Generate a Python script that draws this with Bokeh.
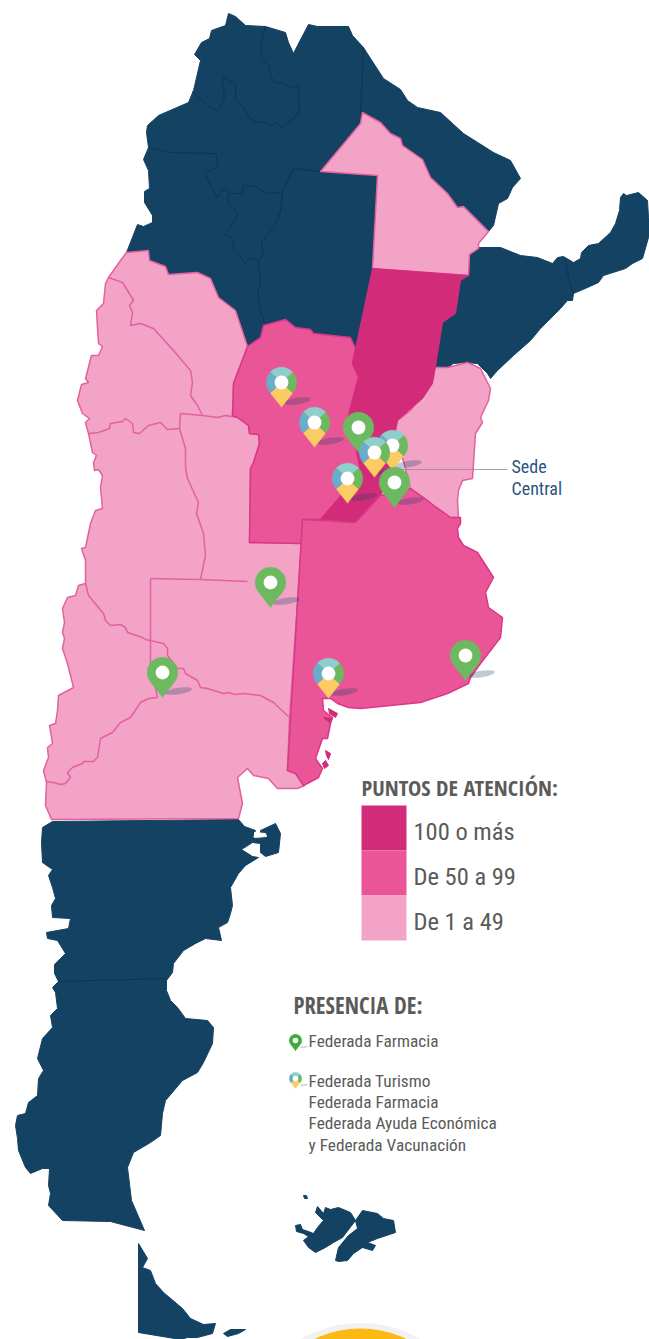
import math
from bokeh.plotting import figure
from bokeh.models import Range1d
from bokeh.core.properties import value
from bokeh.embed import file_html
from bokeh.resources import INLINE

NAVY = "#144263"; LIGHT = "#F2A3C6"; MID = "#EA5598"; DARK = "#D22B79"
LIGHT_EDGE = "#E261A0"; MID_EDGE = "#D9378A"; NAVY_EDGE = "#0E3450"
TXT = "#5B5B59"; SEDE = "#2A5580"
FONT = "Roboto Condensed"; HEAD = "Open Sans Condensed"

north = [(126,252),(137,224),(143,226),(152,222),(152,215),(144,202),(144,191),(149,188),(148,170),(143,159),(148,147),(146,132),(147,125),(158,115),(188,102),(193,90),(200,60),(194,54),(201,42),(209,38),(211,30),(225,25),(228,13),(235,16),(245,25),(265,26),(285,32),(288,42),(293,53),(297,45),(308,24),(317,26),(348,26),(352,35),(363,47),(370,58),(383,78),(400,89),(407,100),(417,107),(440,112),(463,133),(493,152),(510,160),(520,178),(512,187),(507,198),(498,203),(493,225),(488,231),(400,250),(372,268),(357,350),(247,350),(235,310),(126,260)]
north_lines = [
 [(265,26),(260,45),(262,60),(268,65),(270,75),(275,83),(283,82),(290,88),(298,84),(299,110),(293,118),(282,127),(275,122),(270,126),(263,121),(257,122),(248,117),(243,107),(235,100),(235,83),(223,77),(222,82),(224,97),(218,110),(212,109),(192,91)],
 [(363,47),(360,113)],
 [(148,147),(170,152),(215,153),(217,163),(215,168),(205,171),(207,178),(217,197),(223,188),(230,193),(242,193),(243,185),(255,186),(267,193),(282,192),(293,168),(320,171)],
 [(228,193),(227,202),(237,211),(235,220),(224,234),(232,238),(233,248),(240,255),(244,263),(252,257),(258,260),(263,253),(261,242),(273,227),(280,211),(282,192)],
 [(258,260),(260,285),(257,290),(260,310),(264,323)],
]
santiago = [(293,168),(320,171),(377,175),(372,268),(357,345),(300,345),(262,330),(258,260),(263,253),(261,242),(273,227),(280,211),(282,192)]
corrientes = [(478,247),(500,247),(520,255),(537,257),(552,263),(557,257),(563,256),(573,262),(580,258),(581,252),(588,245),(598,243),(610,232),(615,223),(619,210),(620,197),(623,193),(626,195),(638,192),(647,200),(648,217),(648,237),(642,258),(632,263),(625,268),(603,275),(598,282),(587,287),(573,293),(572,300),(567,300),(560,308),(540,328),(530,340),(513,355),(497,370),(490,378),(487,373),(477,363),(465,362),(453,363),(447,367),(435,366),(442,322),(455,313),(460,280),(468,275),(469,254)]
misiones_line = [(565,258),(568,278),(573,293)]
chaco = [(320,171),(360,123),(362,112),(380,122),(390,133),(400,138),(402,145),(422,159),(430,177),(447,193),(457,207),(463,206),(488,231),(478,243),(478,248),(469,254),(468,275),(372,268),(377,175)]
west = [(126,252),(148,250),(149,260),(165,266),(168,274),(197,272),(210,278),(218,297),(235,310),(247,346),(233,383),(232,415),(237,417),(248,425),(249,433),(258,434),(259,443),(253,462),(250,468),(249,542),(301,543),(289,717),(287,770),(297,772),(304,785),(297,788),(277,788),(268,778),(253,775),(247,768),(237,777),(242,803),(238,818),(51,819),(45,805),(46,782),(43,770),(48,757),(47,747),(52,743),(49,725),(55,723),(57,710),(58,695),(73,687),(67,663),(62,648),(64,638),(62,632),(64,622),(62,608),(67,597),(75,595),(78,585),(85,583),(85,573),(85,560),(81,548),(85,547),(90,523),(95,510),(102,508),(100,487),(102,475),(98,469),(94,470),(93,462),(96,455),(92,452),(88,433),(85,422),(89,418),(82,413),(77,400),(81,384),(88,382),(85,378),(91,355),(98,355),(102,346),(98,343),(97,327),(96,310),(103,303),(105,283),(108,277),(120,260)]
west_lines = [
 [(108,277),(122,282),(127,290),(133,300),(129,305),(132,312),(130,325),(140,323),(153,328),(173,350),(190,370),(192,382),(190,395),(197,405),(202,415)],
 [(88,433),(98,432),(109,428),(110,423),(122,421),(125,418),(132,423),(133,432),(139,433),(148,425),(160,422),(167,429),(179,428)],
 [(180,413),(202,415),(217,417),(225,415),(237,417)],
 [(180,413),(179,428),(185,448),(185,467),(187,478),(198,502),(196,513),(203,533),(205,555),(200,579)],
 [(150,578),(200,579),(247,581)],
 [(85,583),(88,595),(103,613),(105,620),(110,625),(120,624),(125,627),(127,632),(142,637),(145,639),(163,643),(167,648),(167,655),(177,668),(183,668),(185,673),(197,680),(200,687),(207,688),(223,693),(228,692),(235,694),(243,693),(260,695),(273,702),(289,717)],
 [(150,578),(150,640),(150,663),(157,697)],
 [(157,697),(148,698),(140,702),(130,717),(120,722),(112,732),(100,738),(97,757),(93,761),(83,761),(82,763),(72,767),(67,772),(70,777),(65,783),(60,784),(53,782),(46,781)],
]
entre_rios = [(433,367),(447,367),(467,362),(480,368),(490,388),(488,400),(480,417),(482,422),(475,433),(472,478),(462,480),(458,490),(457,500),(458,517),(450,517),(433,505),(427,500),(410,488),(395,430),(397,420),(410,410),(433,377)]
cordoba = [(247,346),(260,337),(263,325),(285,319),(295,327),(310,329),(313,333),(350,337),(355,348),(352,363),(358,377),(350,407),(346,425),(356,450),(360,470),(345,490),(320,519),(302,519),(301,543),(249,542),(250,468),(253,462),(259,443),(258,434),(249,433),(248,425),(237,417),(232,415),(233,383)]
santa_fe = [(372,268),(468,275),(460,280),(455,313),(442,322),(435,366),(432,383),(422,398),(397,420),(395,430),(398,450),(392,478),(380,495),(355,522),(320,519),(345,490),(360,470),(356,450),(346,425),(350,407),(358,377),(352,363),(355,348)]
buenos_aires = [(302,519),(355,522),(380,495),(410,488),(427,500),(433,505),(450,517),(460,517),(460,523),(457,528),(458,537),(463,545),(477,552),(493,577),(485,592),(488,607),(502,617),(500,637),(480,663),(470,677),(468,683),(447,693),(420,702),(360,708),(348,707),(337,703),(330,698),(322,698),(323,710),(332,717),(330,723),(327,738),(322,738),(315,758),(322,768),(318,777),(303,785),(295,773),(287,770)]
ba_islands = [[(328,708),(337,713),(335,717),(329,713)],[(323,717),(332,718),(329,722)],[(325,750),(330,753),(328,759),(326,755)],[(322,763),(325,760),(328,765),(324,768)]]
south = [(52,821),(238,819),(244,826),(255,830),(252,837),(260,837),(260,830),(275,823),(280,833),(278,852),(265,856),(260,852),(260,843),(252,842),(241,849),(252,856),(258,857),(245,865),(238,873),(230,887),(232,905),(230,913),(227,922),(218,927),(221,940),(205,938),(195,943),(183,950),(173,963),(172,972),(166,980),(166,990),(170,1000),(177,1007),(185,1018),(207,1020),(213,1027),(212,1043),(203,1062),(197,1072),(182,1080),(165,1100),(162,1113),(160,1135),(150,1142),(133,1152),(127,1167),(131,1200),(144,1230),(110,1221),(62,1220),(48,1205),(50,1193),(48,1185),(49,1168),(42,1168),(30,1173),(25,1167),(18,1150),(17,1138),(15,1125),(17,1115),(25,1113),(28,1102),(37,1095),(38,1078),(43,1070),(37,1058),(42,1038),(52,1027),(50,1015),(57,1008),(55,992),(52,987),(58,981),(54,973),(54,964),(65,953),(57,940),(47,938),(46,932),(68,928),(70,918),(52,917),(51,905),(55,898),(52,887),(48,875),(52,869),(42,862),(41,842),(42,827)]
south_hole = [(254,832),(265,833),(266,836),(254,837)]
south_line = [(58,981),(166,978)]
fuego = [(138,1243),(147,1258),(142,1267),(150,1270),(155,1283),(163,1292),(182,1308),(190,1318),(203,1324),(215,1323),(212,1333),(197,1337),(187,1337),(180,1339),(138,1332)]
estados = [(223,1333),(230,1329),(245,1329),(238,1333),(227,1336)]
falk_west = [(295,1225),(300,1224),(302,1229),(308,1231),(313,1233),(317,1227),(323,1220),(315,1212),(317,1206),(323,1213),(325,1207),(330,1209),(338,1207),(350,1212),(355,1220),(342,1237),(333,1242),(325,1247),(315,1252),(308,1247),(303,1240),(308,1236),(303,1233),(296,1231)]
falk_east = [(335,1260),(338,1247),(348,1235),(357,1228),(355,1220),(362,1210),(377,1213),(383,1218),(393,1220),(395,1232),(377,1238),(367,1242),(375,1245),(372,1250),(362,1247),(353,1253),(347,1260),(338,1261)]
falk_small = [(303,1195),(306,1195),(307,1198),(304,1198)]

# pins: kind, head centre
pin_kind = ["green","multi","multi","multi","multi","green","multi","green","green","multi","green"]
pin_x = [358,392,281,314,374,394,347,270,162,328,465]
pin_y = [427,445,382,422,452,482,478,582,672,673,655]

legend_labels = ["100 o más","De 50 a 99","De 1 a 49"]
legend_colors = [DARK, MID, LIGHT]
legend_top = [805,850,895]

p = figure(width=649, height=1339, x_range=Range1d(0,649), y_range=Range1d(1339,0),
           x_axis_type=None, y_axis_type=None, toolbar_location=None, output_backend="svg",
           min_border=0, outline_line_color=None, background_fill_color="white", border_fill_color="white")
p.grid.visible = False

def poly(pts, fill, edge=None, w=1.0, alpha=1.0):
    p.patch([a for a,b in pts],[b for a,b in pts], fill_color=fill, fill_alpha=alpha,
            line_color=edge or fill, line_width=w, line_join="round")
def line(pts, color, w=1.0):
    p.line([a for a,b in pts],[b for a,b in pts], line_color=color, line_width=w, line_join="round")

poly(north, NAVY); poly(santiago, NAVY); poly(corrientes, NAVY); poly(south, NAVY)
poly(south_hole, "white")
poly(fuego, NAVY); poly(estados, NAVY)
poly(falk_west, NAVY); poly(falk_east, NAVY); poly(falk_small, NAVY)
for l in north_lines + [misiones_line, south_line]:
    line(l, NAVY_EDGE, 1.0)
line(santiago[:3], NAVY_EDGE, 1.0)
poly(chaco, LIGHT, LIGHT_EDGE, 1.5)
poly(west, LIGHT, LIGHT_EDGE, 1.5)
for l in west_lines:
    line(l, LIGHT_EDGE, 1.5)
poly(entre_rios, LIGHT, LIGHT_EDGE, 1.5)
poly(cordoba, MID, MID_EDGE, 1.5)
poly(santa_fe, DARK, DARK, 1.0)
poly(buenos_aires, MID, MID_EDGE, 1.5)
for isl in ba_islands:
    poly(isl, DARK)

# leader line
p.line([397,507],[469,469], line_color="#8E8E96", line_width=1.2, line_alpha=0.8)

def sector(cx, cy, R, D, a0, a1):
    alpha = math.degrees(math.acos(R/D))
    xs, ys = [cx], [cy]
    n = 24
    for i in range(n+1):
        t = a0 + (a1-a0)*i/n
        tt = ((t+180)%360)-180
        r = R if abs(tt) >= alpha else R/math.cos(math.radians(alpha-abs(tt)))
        xs.append(cx + r*math.sin(math.radians(t)))
        ys.append(cy + r*math.cos(math.radians(t)))
    return xs, ys

def pin(kind, cx, cy, R=15.3, green="#6CB960", shadow=True):
    k = R/15.3
    D = 24.8*k
    if shadow:
        p.ellipse([cx+16*k],[cy+18.5*k], width=27*k, height=6.5*k, angle=0.16,
                  fill_color=NAVY, fill_alpha=0.28, line_color=None)
    if kind == "green":
        xs, ys = sector(cx, cy, R, D, 0, 360)
        p.patch(xs, ys, fill_color=green, line_color=green, line_width=0.5)
    else:
        for a0,a1,c in [(-47,47,"#FBCB64"),(47,133,"#6CB960"),(133,227,"#8FCFCB"),(227,313,"#69ADC9")]:
            xs, ys = sector(cx, cy, R, D, a0, a1)
            p.patch(xs, ys, fill_color=c, line_color=c, line_width=0.3)
    p.circle([cx],[cy], radius=6.9*k, fill_color="white", line_color=None)

for k,x,y in zip(pin_kind,pin_x,pin_y):
    pin(k,x,y)

# legend
for c,t,lab in zip(legend_colors, legend_top, legend_labels):
    p.quad(left=[361],right=[406],top=[t],bottom=[t+45], fill_color=c, line_color=None)
    p.text([413],[t+26],[lab], text_font=value(FONT), text_font_size="24.5px", text_color=TXT, text_baseline="alphabetic")

p.text([361],[787],["PUNTOS DE ATENCIÓN:"], text_font=value(HEAD), text_font_size="22.3px", text_color=TXT, text_baseline="alphabetic")
p.text([293],[1005],["PRESENCIA DE:"], text_font=value(HEAD), text_font_size="22.8px", text_color=TXT, text_baseline="alphabetic")
p.text([511,511],[466,488],["Sede","Central"], text_font=value(FONT), text_font_size="18px", text_color=SEDE, text_baseline="alphabetic")
p.text([308]*5,[1040,1080,1101,1122,1144],["Federada Farmacia","Federada Turismo","Federada Farmacia","Federada Ayuda Económica","y Federada Vacunación"],
       text_font=value(FONT), text_font_size="17.3px", text_color=TXT, text_baseline="alphabetic")

pin("green",295,1040,R=6.2,green="#3CAB3A",shadow=False)
pin("multi",295,1078,R=6.2,shadow=False)
p.line([300,307],[1047,1046], line_color="#C8D2DA", line_width=1.5)
p.line([300,307],[1085,1084], line_color="#C8D2DA", line_width=1.5)

# badge at the bottom edge
p.circle([360],[1443], radius=120.5, fill_color="#F1F1F1", line_color=None)
p.circle([360],[1434], radius=106, fill_color="#FDB913", line_color=None)

open("out.html","w").write(file_html(p, INLINE))
